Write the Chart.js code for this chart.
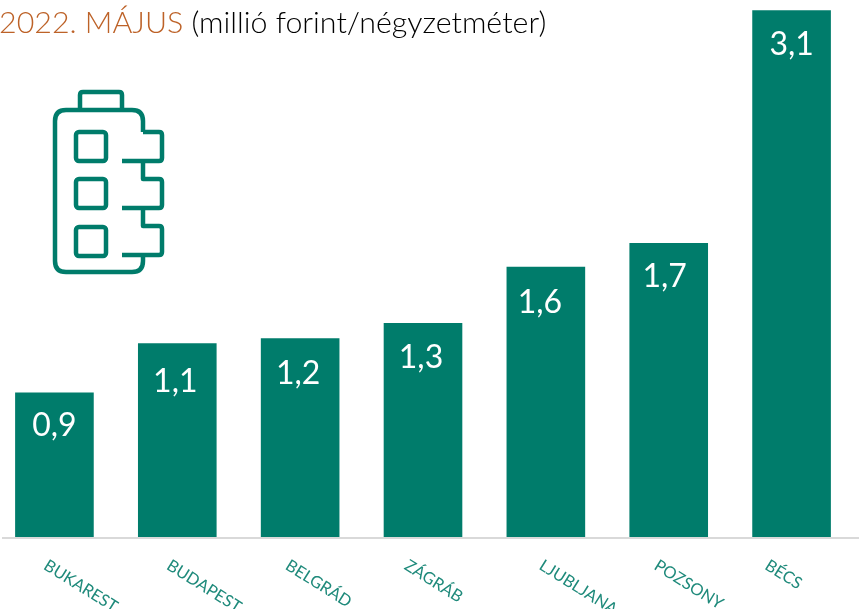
<!DOCTYPE html>
<html lang="hu">
<head>
<meta charset="utf-8">
<title>2022. május</title>
<script src="https://cdn.jsdelivr.net/npm/chart.js@4"></script>
<style>
    html, body { margin: 0; padding: 0; width: 859px; height: 609px; overflow: hidden; background: #fff; }
    #wrap { position: absolute; left: -7px; top: 0; width: 866px; height: 609px; }
    #title { position: absolute; left: -1px; top: 3px; font: 300 30.4px Lato, sans-serif; color: #000; white-space: nowrap; z-index: 2; }
    #title span { color: #bd6228; }
    #icon { position: absolute; left: 0; top: 0; z-index: 2; }
</style>
</head>
<body>
<div id="title"><span>2022. MÁJUS</span> (millió forint/négyzetméter)</div>
<svg id="icon" width="200" height="290" fill="none" stroke="#007c6b" stroke-width="4.5" stroke-linejoin="round" stroke-linecap="butt">
    <path d="M80 110 V95 Q80 92 83 92 H119 Q122 92 122 95 V110"/>
    <path d="M143 132 V121 Q143 110 132 110 H66 Q55 110 55 121 V261 Q55 272 66 272 H132 Q143 272 143 261 V255"/>
    <path d="M143 132 H159 Q162 132 162 135 V158 Q162 161 159 161 H122"/>
    <path d="M143 161 V179 H159 Q162 179 162 182 V205 Q162 208 159 208 H122"/>
    <path d="M143 208 V226 H159 Q162 226 162 229 V252 Q162 255 159 255 H122"/>
    <rect x="76" y="132" width="30" height="29" rx="3"/>
    <rect x="76" y="179" width="30" height="29" rx="3"/>
    <rect x="76" y="227" width="30" height="29" rx="3"/>
</svg>
<div id="wrap"><canvas id="chart"></canvas></div>
<script>
const cities = ['BUKAREST', 'BUDAPEST', 'BELGRÁD', 'ZÁGRÁB', 'LJUBLJANA', 'POZSONY', 'BÉCS'];
const prices = [0.85, 1.14, 1.17, 1.26, 1.59, 1.73, 3.1];
const priceLabels = ['0,9', '1,1', '1,2', '1,3', '1,6', '1,7', '3,1'];

const teal = '#007c6b';

// the labels are not placed evenly in the original
const labelShiftX = [0, -2, -2, -2, -6, -4, 0];
const labelShiftY = [-1, 4, 2, 1, 2, 0, 0];

// labels inside the bars and the slanted city names, chart.js cannot rotate downwards to the right
const labelsPlugin = {
    id: 'labels',
    afterDatasetsDraw(chart) {
        const ctx = chart.ctx;
        const meta = chart.getDatasetMeta(0);
        const baseY = chart.scales.y.getPixelForValue(0);
        ctx.save();

        ctx.fillStyle = '#d9d9d9';
        ctx.fillRect(9, baseY, 857, 2);

        ctx.fillStyle = '#fff';
        ctx.font = '400 32px Lato, sans-serif';
        ctx.textAlign = 'center';
        ctx.textBaseline = 'middle';
        meta.data.forEach((bar, i) => {
            ctx.fillText(priceLabels[i], bar.x + labelShiftX[i], bar.y + 34 + labelShiftY[i]);
        });

        ctx.fillStyle = '#1f8a7b';
        ctx.font = '400 16.5px Lato, sans-serif';
        ctx.textAlign = 'left';
        cities.forEach((city, i) => {
            const x = chart.scales.x.getPixelForTick(i);
            ctx.save();
            ctx.translate(x - 41 + city.length * 4, baseY + 27);
            ctx.rotate(32 * Math.PI / 180);
            ctx.fillText(city, 0, 0);
            ctx.restore();
        });
        ctx.restore();
    }
};

new Chart(document.getElementById('chart'), {
    type: 'bar',
    data: {
        labels: cities,
        datasets: [{
            data: prices,
            backgroundColor: teal,
            categoryPercentage: 1,
            barPercentage: 0.64
        }]
    },
    options: {
        responsive: true,
        maintainAspectRatio: false,
        animation: false,
        layout: { padding: { top: 0, right: 6, bottom: 64, left: 0 } },
        plugins: {
            legend: { display: false },
            tooltip: { enabled: false }
        },
        scales: {
            x: {
                ticks: { display: false },
                grid: { display: false },
                border: { display: false }
            },
            y: {
                display: false,
                min: 0,
                max: 3.16
            }
        }
    },
    plugins: [labelsPlugin]
});
</script>
</body>
</html>
